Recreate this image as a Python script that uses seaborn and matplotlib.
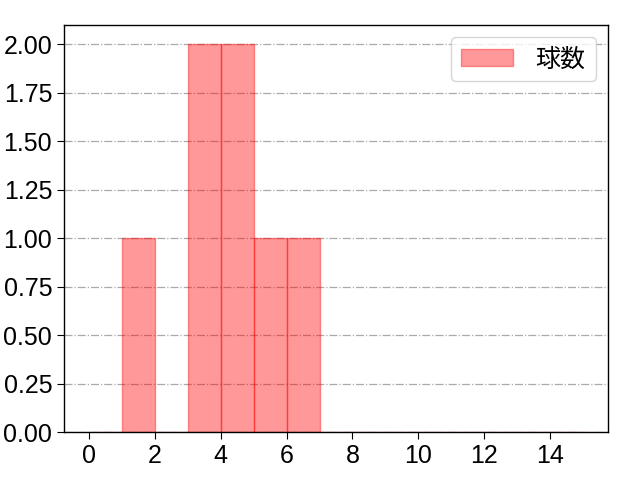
import matplotlib
matplotlib.use("Agg")
import matplotlib.pyplot as plt
import seaborn as sns
import numpy as np
import pandas as pd

# pitches per at-bat (one entry per plate appearance)
pitch_counts = [1, 3, 3, 4, 4, 5, 6]
bin_edges = list(range(0, 16))
label = "球数"

sns.set_style("white")
plt.rcParams['font.family'] = ['Liberation Sans', 'Noto Sans CJK JP']
plt.rcParams['axes.unicode_minus'] = False
plt.rcParams['text.color'] = 'black'

fig, ax = plt.subplots(figsize=(6.4, 4.8), dpi=100)
ax.set_axisbelow(True)
ax.grid(axis="y", color="#aaaaaa", linestyle="-.", linewidth=0.9)
df = pd.DataFrame({"count": pitch_counts})
sns.histplot(data=df, x="count", bins=bin_edges, color="red",
             edgecolor="red", linewidth=1, label=label, ax=ax)
for p in ax.patches:
    p.set_alpha(0.4)
ax.set_xlim(-0.75, 15.75)
ax.set_ylim(0, 2.1)
ax.set_xticks(range(0, 16, 2))
ax.set_yticks(np.arange(0, 2.01, 0.25))
ax.yaxis.set_major_formatter(matplotlib.ticker.FormatStrFormatter("%.2f"))
ax.set_xlabel("")
ax.set_ylabel("")
ax.tick_params(labelsize=18, left=True, bottom=True, length=5,
               colors="black", labelcolor="black")
for s in ax.spines.values():
    s.set_color("black")
    s.set_linewidth(1)
leg = ax.legend(fontsize=18, loc="upper right", handlelength=2.1, handletextpad=0.9)
for t in leg.get_texts():
    t.set_color("black")
fig.subplots_adjust(left=0.1, right=0.95, top=0.948, bottom=0.1)
plt.savefig("out.png")
